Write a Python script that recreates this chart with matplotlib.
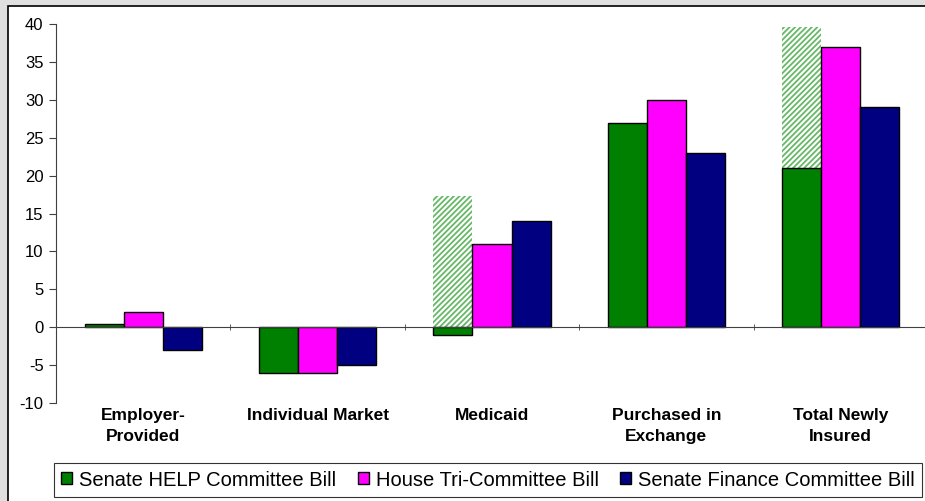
import numpy as np
import matplotlib.pyplot as plt
from matplotlib.patches import Rectangle

categories = ["Employer-\nProvided", "Individual Market", "Medicaid",
              "Purchased in\nExchange", "Total Newly\nInsured"]
series_names = ["Senate HELP Committee Bill", "House Tri-Committee Bill",
                "Senate Finance Committee Bill"]
help_bill = [0.4, -6, -1, 27, 21]
house_bill = [2, -6, 11, 30, 37]
finance_bill = [-3, -5, 14, 23, 29]
# upper end of the hatched range for the HELP bill (None = no range)
help_upper = [None, None, 17.3, None, 39.6]

colors = ["#008000", "#ff00ff", "#000080"]

plt.rcParams['font.family'] = ['Liberation Sans', 'DejaVu Sans']
plt.rcParams['hatch.linewidth'] = 1.3
plt.rcParams['axes.unicode_minus'] = False

fig = plt.figure(figsize=(9.25, 5.01), dpi=100)
fig.patch.set_facecolor('#e0e0e0')
fig.patches.append(Rectangle((8 / 925, -0.01), 1.0, 1 - 6 / 501 + 0.01,
                             transform=fig.transFigure, facecolor='white',
                             edgecolor='black', linewidth=1.2, zorder=-10))

ax = fig.add_axes([56 / 925, 1 - 403 / 501, 872 / 925, (403 - 24) / 501])
ax.set_facecolor('none')

x = np.arange(len(categories))
w = 0.224

# hatched ranges drawn first
for i, top in enumerate(help_upper):
    if top is None:
        continue
    base = max(help_bill[i], 0)
    ax.bar(x[i] - w, top - base, w, bottom=base, facecolor='white',
           edgecolor='#66b866', hatch='//////', linewidth=0, zorder=1)

for k, vals in enumerate([help_bill, house_bill, finance_bill]):
    ax.bar(x + (k - 1) * w, vals, w, color=colors[k], edgecolor='black',
           linewidth=1.0, label=series_names[k], zorder=2)

ax.set_xlim(-0.5, 4.5)
ax.set_ylim(-10, 40)
ax.set_yticks(range(-10, 41, 5))
ax.tick_params(axis='y', labelsize=12, length=5, color='#404040', pad=4)

ax.spines['top'].set_visible(False)
ax.spines['right'].set_visible(False)
ax.spines['left'].set_color('#404040')
ax.spines['bottom'].set_position(('data', 0))
ax.spines['bottom'].set_color('#404040')

ax.set_xticks(x)
ax.set_xticklabels(categories, fontsize=12.5, fontweight='bold',
                   linespacing=1.5)
ax.set_xticks(np.arange(-0.5, 5, 1.0), minor=True)
ax.tick_params(axis='x', which='major', length=0, pad=58)
ax.tick_params(axis='x', which='minor', length=5, color='#404040',
               direction='inout')

leg = fig.legend(loc='center', bbox_to_anchor=(488 / 925, 1 - 480 / 501),
                 ncol=3, fontsize=14.5, frameon=True,
                 fancybox=False, edgecolor='black', handlelength=0.55,
                 handleheight=0.55, handletextpad=0.35, columnspacing=1.05,
                 borderpad=0.35, borderaxespad=0)
leg.get_frame().set_linewidth(0.8)

fig.savefig("out.png", dpi=100, facecolor=fig.get_facecolor())
